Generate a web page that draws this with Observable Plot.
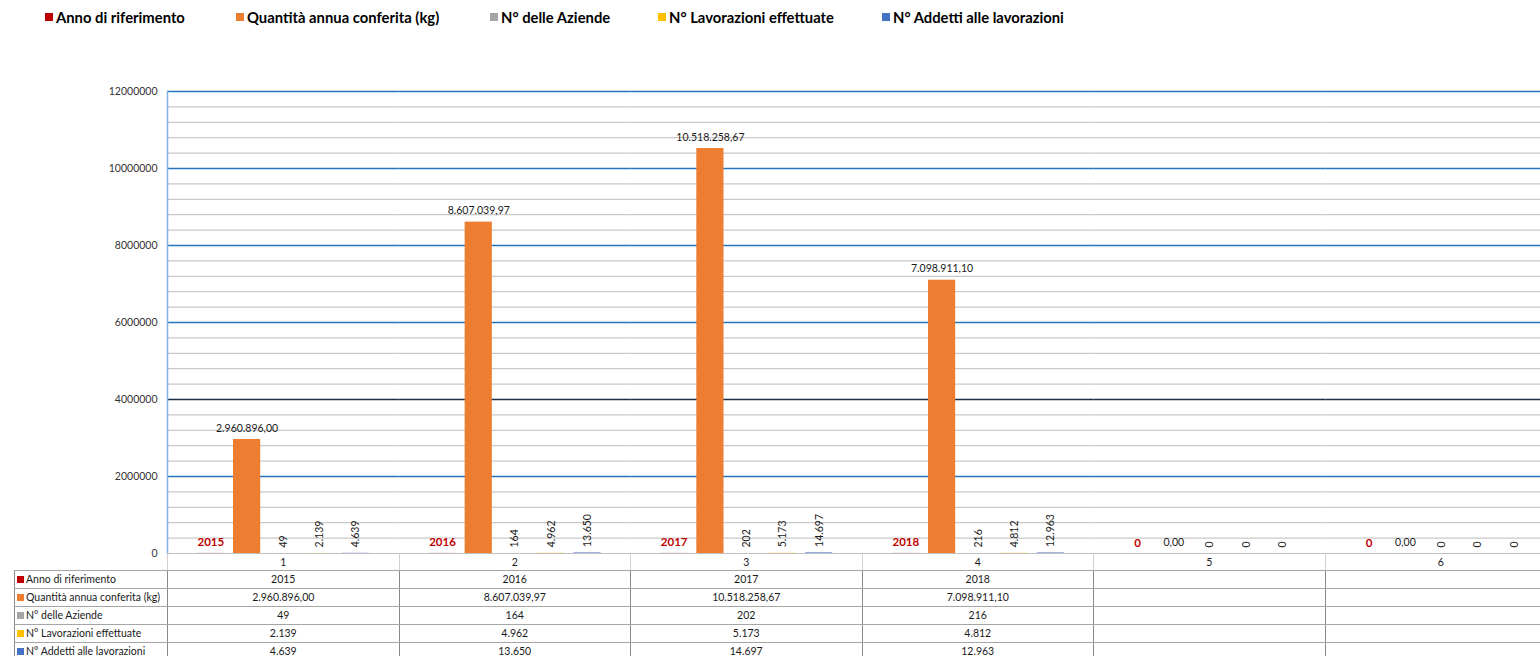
<!DOCTYPE html>
<html><head><meta charset="utf-8">
<script src="https://cdn.jsdelivr.net/npm/d3@7"></script>
<script src="https://cdn.jsdelivr.net/npm/@observablehq/plot@0.6"></script>
<style>
html,body{margin:0;padding:0;background:#fff;overflow:hidden;width:1540px;height:656px}
body{font-family:Lato,"Liberation Sans",sans-serif;color:#000;position:relative}
#legend{position:absolute;left:0;top:0;width:1540px;height:34px;font-weight:bold;font-size:14.8px}
#legend .li{position:absolute;top:8px;display:flex;align-items:center;white-space:nowrap;line-height:18px}
#legend .sw{width:8px;height:8px;margin-right:3px}
#chart{position:absolute;left:0;top:34px}
#chart svg{display:block;overflow:visible;max-width:none !important}
#tbl{position:absolute;left:14px;top:553px;border-collapse:collapse;table-layout:fixed;font-size:10.5px;width:1542px}
#tbl td{padding:0;text-align:center;white-space:nowrap;overflow:hidden;height:17px;line-height:17px;color:#1a1a1a}
#tbl tr.ax td{height:16px;line-height:16px;border-left:1px solid #cfcfcf;border-right:1px solid #cfcfcf;border-bottom:1px solid #a6a6a6;border-top:1px solid #bfbfbf}
#tbl tr.ax td.blank{border:none}
#tbl tr.dr td{border:1px solid #a6a6a6;border-left:1px solid #8a8a8a;border-right:1px solid #8a8a8a}
#tbl td.hd{text-align:left;padding-left:2px}
#tbl td.hd span.sq{display:inline-block;width:7px;height:7px;margin-right:2px}
</style>
</head><body>
<div id="legend"></div>
<div id="chart"></div>
<table id="tbl"></table>
<script>
// ---- data ----
const categories = ["1","2","3","4","5","6"];
const seriesNames = ["Anno di riferimento","Quantità annua conferita (kg)","N° delle Aziende","N° Lavorazioni effettuate","N° Addetti alle lavorazioni"];
const seriesColors = ["#c00000","#ed7d31","#a5a5a5","#ffc000","#4472c4"];
const anno = [2015, 2016, 2017, 2018, 0, 0];
const quantita = [2960896.00, 8607039.97, 10518258.67, 7098911.10, 0, 0];
const aziende = [49, 164, 202, 216, 0, 0];
const lavorazioni = [2139, 4962, 5173, 4812, 0, 0];
const addetti = [4639, 13650, 14697, 12963, 0, 0];
const yTicks = [0, 2000000, 4000000, 6000000, 8000000, 10000000, 12000000];
const minorStep = 400000;

const seriesValues = [anno, quantita, aziende, lavorazioni, addetti];
const it = d3.formatLocale({decimal: ",", thousands: ".", grouping: [3], currency: ["", " €"]});
const fmt2 = it.format(",.2f");
const fmtInt = it.format(",d");
const formatters = [v => String(v), v => fmt2(v), v => fmtInt(v), v => fmtInt(v), v => fmtInt(v)];

const rows = [];
categories.forEach((c, i) => seriesNames.forEach((s, j) => {
  rows.push({cat: c, series: s, si: j, value: seriesValues[j][i], label: formatters[j](seriesValues[j][i])});
}));

// ---- legend ----
const legendLeft = [45, 236, 490, 658, 882];
const lg = d3.select("#legend");
seriesNames.forEach((s, j) => {
  const item = lg.append("div").attr("class", "li").style("left", legendLeft[j] + "px");
  item.append("div").attr("class", "sw").style("background", seriesColors[j]);
  item.append("span").text(s);
});

// ---- chart ----
const minorTicks = d3.range(yTicks[0], yTicks[yTicks.length - 1] + 1, minorStep).filter(d => !yTicks.includes(d));
const chart = Plot.plot({
  width: 1557, height: 519,
  marginLeft: 167, marginRight: 0, marginTop: 57, marginBottom: 0,
  style: {fontFamily: "Lato, 'Liberation Sans', sans-serif", fontSize: "10px", color: "#000", background: "transparent", maxWidth: "none"},
  fx: {domain: categories, padding: 0, round: false, axis: null},
  x: {domain: seriesNames, paddingInner: 0.25, paddingOuter: 0.82, round: false, axis: null},
  y: {domain: [yTicks[0], yTicks[yTicks.length - 1]], axis: null},
  color: {domain: seriesNames, range: seriesColors},
  marks: [
    Plot.ruleY(minorTicks, {stroke: "#c9c9c9", strokeWidth: 1.2}),
    Plot.ruleY(yTicks.filter(d => d > 0), {stroke: d => d === 4000000 ? "#1a2f4a" : "#2874c0", strokeWidth: 1.5}),
    Plot.axisY(yTicks, {anchor: "left", tickSize: 0, tickPadding: 10, tickFormat: d => String(d), label: null, fill: "#333", fontSize: 10.5}),
    Plot.frame({anchor: "left", fx: "1", stroke: "#7fb2e0", strokeWidth: 1.5}),
    Plot.barY(rows, {fx: "cat", x: "series", y: "value", fill: "series"}),
    Plot.text(rows.filter(d => d.si === 0), {fx: "cat", x: "series", y: "value", text: "label", fill: "#c00000", fontWeight: "bold", fontSize: 11.5, lineAnchor: "bottom", dy: -7}),
    Plot.text(rows.filter(d => d.si === 1), {fx: "cat", x: "series", y: "value", text: "label", fill: "#1a1a1a", fontSize: 10.5, lineAnchor: "bottom", dy: -8}),
    Plot.text(rows.filter(d => d.si >= 2), {fx: "cat", x: "series", y: "value", text: "label", fill: "#1a1a1a", fontSize: 10.5, rotate: -90, textAnchor: "start", dy: -6})
  ]
});
document.getElementById("chart").appendChild(chart);

// ---- data table ----
const tbl = d3.select("#tbl");
const cg = tbl.append("colgroup");
cg.append("col").style("width", "153px");
categories.forEach(() => cg.append("col").style("width", "231.5px"));
const axr = tbl.append("tr").attr("class", "ax");
axr.append("td").attr("class", "blank");
categories.forEach(c => axr.append("td").text(c));
seriesNames.forEach((s, j) => {
  const tr = tbl.append("tr").attr("class", "dr");
  const hd = tr.append("td").attr("class", "hd");
  hd.append("span").attr("class", "sq").style("background", seriesColors[j]);
  hd.append("span").text(s);
  categories.forEach((c, i) => {
    const v = seriesValues[j][i];
    tr.append("td").text(v === 0 ? "" : formatters[j](v));
  });
});
</script>
</body></html>
